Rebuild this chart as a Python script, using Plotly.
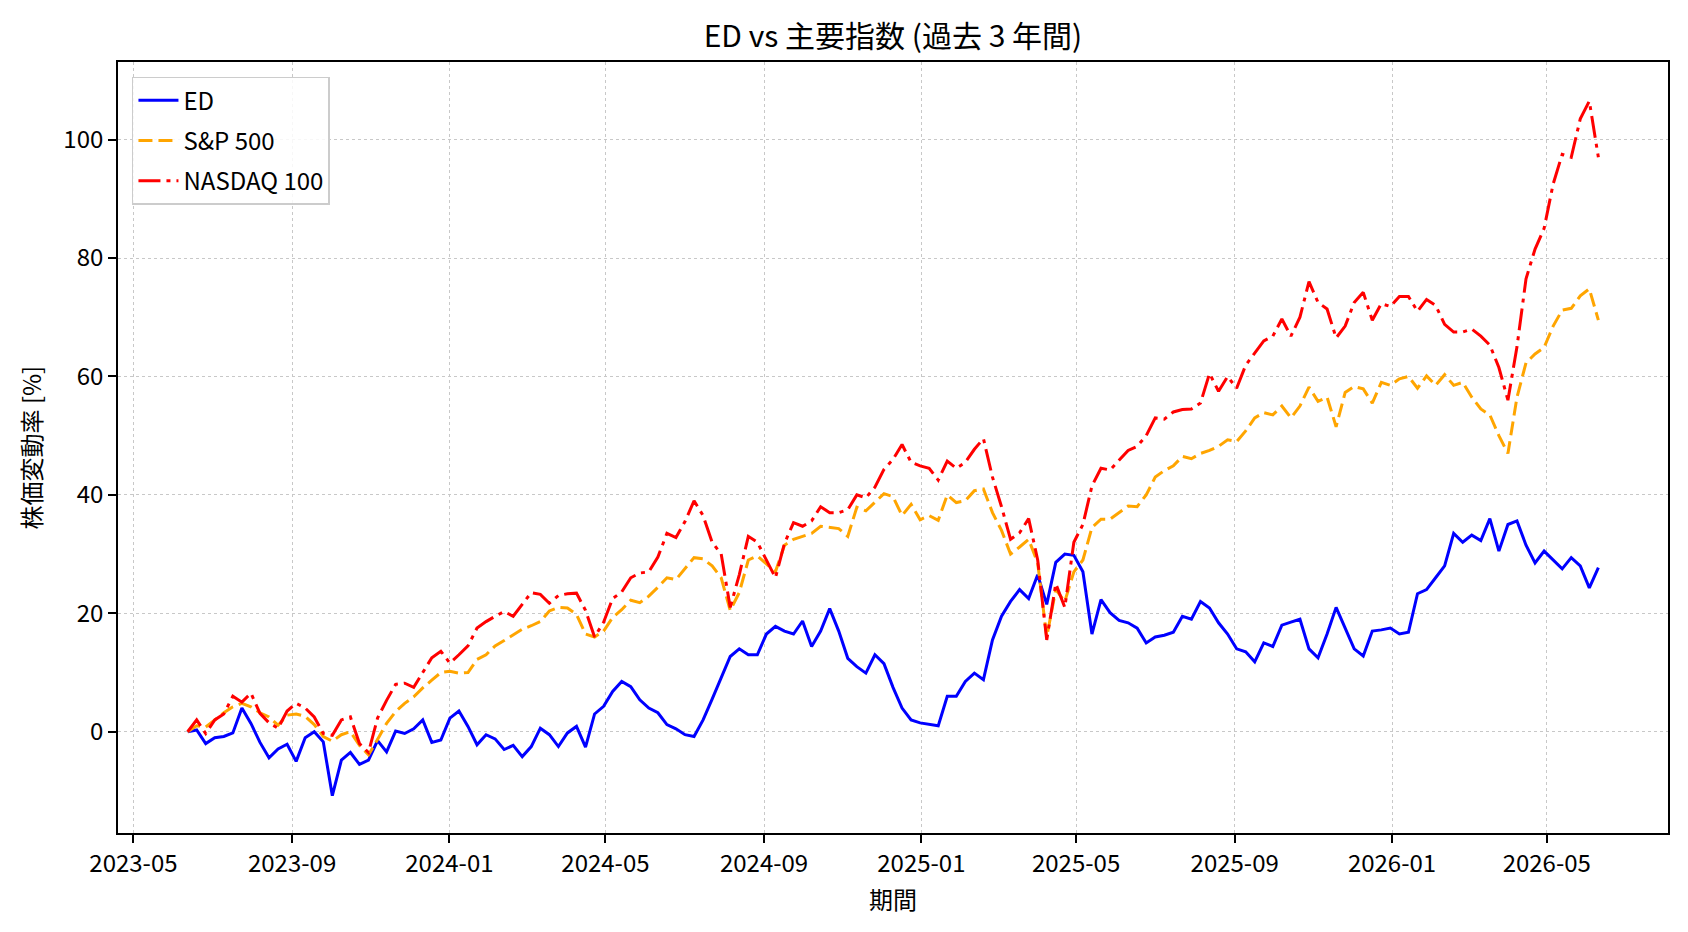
import pandas as pd
import plotly.graph_objects as go

dates = pd.date_range("2023-06-12", "2026-06-10", periods=157)

ed_pct = [
    0, 0.3, -2, -1, -0.8, -0.2, 4, 1.4, -1.8, -4.4, -2.9, -2.1, -5, -1, 0, -1.7, -10.8, -4.8, -3.5, -5.5,
    -4.8, -1.5, -3.4, 0.1, -0.3, 0.5, 2, -1.8, -1.4,
    2.3, 3.5, 0.9, -2.2, -0.5, -1.2, -3, -2.3, -4.2, -2.5, 0.6, -0.5, -2.5, -0.2, 0.9, -2.6, 3, 4.3, 6.8, 8.5,
    7.6, 5.4, 4, 3.2, 1.2, 0.5, -0.5, -0.8, 2, 5.5,
    9, 12.7, 14, 13, 13, 16.5, 17.8, 17, 16.5, 18.7, 14.4, 17, 20.8, 17, 12.4, 11, 9.9, 13, 11.5, 7.5,
    4, 2, 1.5, 1.2, 1, 6, 6,
    8.5, 9.9, 8.8, 15.5, 19.5, 22, 24, 22.5, 26.5, 21.5, 28.6, 30, 29.8, 27, 16.5, 22.3, 20.1, 18.8, 18.4, 17.5,
    15, 16, 16.3, 16.8, 19.5, 19, 22,
    20.9, 18.4, 16.5, 14, 13.5, 11.8, 15, 14.4, 18, 18.5, 19, 14, 12.5, 16.5, 21, 17.5, 14, 12.8, 17, 17.2,
    17.5, 16.5, 16.8, 23.3,
    24, 26, 28, 33.5, 32, 33.2, 32.3, 36, 30.5, 35, 35.6, 31.5, 28.5, 30.5, 29, 27.5, 29.4, 28, 24.3, 27.7,
]

sp500_pct = [
    0, 1, 0.8, 2, 3.2, 4.2, 4.8, 4.2, 3.2, 2.5, 1.1, 2.8, 3, 2.6, 1.2, -0.8, -1.6, -0.5, 0, -2.3,
    -3.9, -1.3, 1.4, 3.4, 4.8, 5.9, 7.4, 8.7, 10,
    10.2, 9.9, 10, 12.2, 13, 14.5, 15.4, 16.3, 17.3, 17.9, 18.6, 20.4, 21, 20.9, 19.8, 16.5, 16, 17, 19.3, 20.6,
    22.2, 21.8, 22.9, 24.4, 26, 25.7, 27.5, 29.4, 29.2, 28,
    26, 20.5, 23.5, 29, 29.7, 28.3, 27, 31.5, 32.5, 33, 33.5, 34.7, 34.5, 34.3, 33, 37.9, 37.3, 38.7, 40.2, 39.7,
    36.5, 38.4, 35.8, 36.5, 35.7, 40, 38.7,
    39, 40.7, 41, 37, 34, 30, 31.2, 32.5, 28.5, 16, 24, 22, 27, 29, 34.5, 35.9, 35.9, 37, 38.1, 38,
    40, 43, 44.1, 44.9, 46.5, 46.1, 47,
    47.5, 48.2, 49.3, 49, 50.8, 53, 53.9, 53.5, 55, 53, 55, 58.2, 55.8, 56.5, 51.5, 57.3, 58.3, 57.9, 55.5, 59,
    58.5, 59.6, 60, 58,
    60.1, 58.5, 60.3, 58.5, 59, 56.5, 54.5, 53.5, 50, 47, 56.5, 62.3, 63.8, 64.9, 68.5, 71.2, 71.5, 73.6, 74.8, 69.5,
]

nasdaq100_pct = [
    0, 2, -0.3, 2, 3, 6, 5, 6.5, 3.1, 1.5, 0.6, 3.5, 4.8, 4, 2.5, -0.3, -0.6, 2, 2.5, -2,
    -3.5, 2.3, 5.3, 8, 8.2, 7.5, 10, 12.5, 13.6,
    11.6, 13, 14.5, 17.5, 18.6, 19.5, 20.3, 19.5, 21.5, 23.5, 23.2, 21.7, 23, 23.3, 23.4, 20.5, 16, 18.5, 22.5, 23.6,
    26, 26.8, 27, 29.5, 33.5, 32.8, 35.5, 39, 36.5, 32,
    30, 21, 26.5, 33, 32, 29, 26, 31.8, 35.3, 34.7, 35.6, 38, 37, 37, 37.5, 40, 39.5, 41.3, 44.3, 46,
    48.5, 45.5, 44.9, 44.5, 42.5, 45.7, 44.5,
    45.5, 47.7, 49.5, 43, 38, 32.5, 33.6, 36, 29, 15.5, 25, 21, 32, 35, 41.5, 44.5, 44.2, 45.8, 47.5, 48.2,
    50, 53, 52.8, 54, 54.4, 54.5, 55.5,
    60.5, 57.5, 60, 58, 61.9, 64, 66, 66.8, 69.7, 66.8, 70, 76, 72.5, 71.4, 66.5, 68.5, 72.5, 74.2, 69.5, 72.3,
    71.8, 73.5, 73.5, 71,
    73, 72, 68.8, 67.5, 67.5, 68, 66.8, 65.3, 61.5, 56, 65, 76.5, 81.5, 85, 92.5, 97.5, 97, 103.5, 106.5, 97,
]

series_names = ["ED", "S&P 500", "NASDAQ 100"]
y_ticks = [0, 20, 40, 60, 80, 100]

FONT = "Noto Sans CJK JP"

fig = go.Figure()
fig.add_trace(go.Scatter(x=dates, y=ed_pct, name=series_names[0], mode="lines", legendgroup="a",
                         line=dict(color="blue", width=3)))
fig.add_trace(go.Scatter(x=dates, y=sp500_pct, name=series_names[1], mode="lines", legendgroup="b",
                         line=dict(color="orange", width=3, dash="14px,6px")))
fig.add_trace(go.Scatter(x=dates, y=nasdaq100_pct, name=series_names[2], mode="lines", legendgroup="c",
                         line=dict(color="red", width=3, dash="22px,6px,4px,6px")))

axis_common = dict(
    showline=True, linecolor="black", linewidth=1.8, mirror=True,
    ticks="outside", ticklen=8, tickwidth=1.5, tickcolor="black",
    showgrid=True, gridcolor="#c8c8c8", griddash="dot", gridwidth=1.2,
    zeroline=False, tickfont=dict(family=FONT, size=24, color="black"),
)

fig.update_layout(
    width=1688, height=932,
    margin=dict(l=118, r=20, t=62, b=99),
    paper_bgcolor="white", plot_bgcolor="white",
    font=dict(family=FONT, color="black"),
    title=dict(text="ED vs 主要指数 (過去 3 年間)", x=0.529, xanchor="center",
               y=1 - 36 / 932, yanchor="middle",
               font=dict(family=FONT, size=30, color="black")),
    xaxis=dict(range=["2023-04-19", "2026-08-03"], tick0="2023-05-01", dtick="M4",
               tickformat="%Y-%m", **axis_common),
    yaxis=dict(range=[-17.1, 113.1], tickvals=y_ticks, **axis_common),
    legend=dict(x=0.009, y=0.981, xanchor="left", yanchor="top",
                bgcolor="rgba(255,255,255,0.85)", bordercolor="#cccccc", borderwidth=1.5,
                font=dict(family=FONT, size=24, color="black"), itemwidth=40,
                tracegroupgap=6),
    showlegend=True,
    annotations=[
        dict(text="期間", xref="paper", yref="paper", x=0.5, y=-66 / 771,
             xanchor="center", yanchor="middle", showarrow=False,
             font=dict(family=FONT, size=24, color="black")),
        dict(text="株価変動率 [%]", xref="paper", yref="paper", x=-88 / 1550, y=0.5,
             xanchor="center", yanchor="middle", textangle=-90, showarrow=False,
             font=dict(family=FONT, size=24, color="black")),
    ],
)

fig.write_html("out.html")
